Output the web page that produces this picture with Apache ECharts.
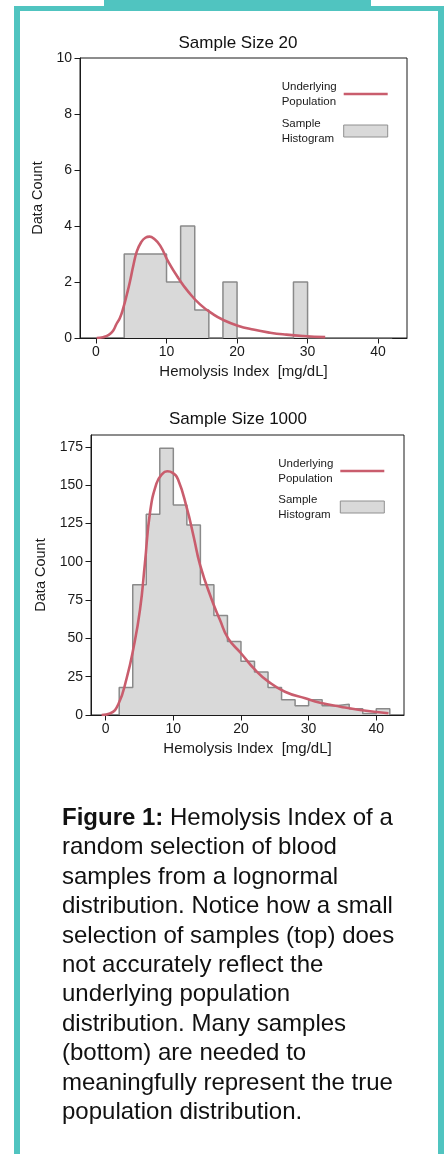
<!DOCTYPE html>
<html>
<head>
<meta charset="utf-8">
<script src="https://cdn.jsdelivr.net/npm/echarts@6/dist/echarts.min.js"></script>
<style>
  html, body { margin: 0; padding: 0; background: #fff; }
  #chart { position: absolute; left: 0; top: 0; width: 446px; height: 1154px; }
  .tab { position: absolute; left: 104px; top: 0; width: 267px; height: 6px; background: #50c4c0; }
  .frame { position: absolute; left: 14px; top: 6px; width: 430px; height: 1200px; box-sizing: border-box;
           border: 6px solid #50c4c0; border-top-width: 5px; border-bottom: none; pointer-events: none; }
  .caption { position: absolute; left: 62px; top: 802px; font-family: 'Liberation Sans', Arial, Helvetica, sans-serif;
             font-size: 24px; line-height: 29.4px; color: #111; white-space: nowrap; }
</style>
</head>
<body>
<div id="chart"></div>
<div class="tab"></div>
<div class="frame"></div>
<div class="caption"><b>Figure 1:</b> Hemolysis Index of a<br>random selection of blood<br>samples from a lognormal<br>distribution. Notice how a small<br>selection of samples (top) does<br>not accurately reflect the<br>underlying population<br>distribution. Many samples<br>(bottom) are needed to<br>meaningfully represent the true<br>population distribution.</div>
<script>
const FONT = "'Liberation Sans', Arial, Helvetica, sans-serif";

// histogram bins (width 2)
const edges20 = [4, 6, 8, 10, 12, 14, 16, 18, 20, 22, 24, 26, 28, 30, 32, 34, 36, 38, 40, 42];
const counts20 = [3, 3, 3, 2, 4, 1, 0, 2, 0, 0, 0, 0, 2, 0, 0, 0, 0, 0, 0];
const edges1000 = [2, 4, 6, 8, 10, 12, 14, 16, 18, 20, 22, 24, 26, 28, 30, 32, 34, 36, 38, 40, 42];
const counts1000 = [18, 85, 131, 174, 137, 124, 85, 65, 48, 35, 28, 18, 10, 6, 10, 6, 7, 4, 1, 4];

// underlying population curve
const curveX20 = [0.1, 1, 1.75, 2.4, 2.9, 3.4, 3.9, 4.4, 4.8, 5.3, 5.8, 6.4, 7, 7.6, 8.2, 9.1, 10.3, 11.7, 13.1, 14.75, 16.6, 18, 20, 22.3, 24.7, 27, 29.4, 32.5];
const curveY20 = [0, 0.03, 0.1, 0.25, 0.5, 0.72, 1.1, 1.58, 2.0, 2.6, 3.1, 3.42, 3.58, 3.62, 3.55, 3.3, 2.7, 2.13, 1.65, 1.2, 0.85, 0.65, 0.45, 0.3, 0.19, 0.12, 0.07, 0.03];
const curveX1000 = [-0.6, 0.64, 1.87, 3.1, 4.08, 5.07, 5.8, 6.55, 7.5, 8.3, 9.1, 9.9, 10.7, 12, 13, 13.95, 15.7, 16.9, 18.1, 20, 22.1, 24.05, 26.5, 29.5, 31.7, 34.7, 37.6, 41.8];
const curveY1000 = [0, 1, 7, 24, 43, 68.6, 99, 132, 151, 157, 159, 158, 153.6, 135, 116.5, 98, 75, 62, 50, 40.3, 29.4, 21.8, 15.2, 10.9, 8, 5.4, 3.3, 1.1];

// tick labels
const xTicks = [0, 10, 20, 30, 40];
const yTicks20 = [0, 2, 4, 6, 8, 10];
const yTicks1000 = [0, 25, 50, 75, 100, 125, 150, 175];

function stepPoints(edges, counts) {
  const pts = [[edges[0], 0]];
  counts.forEach((c, i) => pts.push([edges[i], c]));
  pts.push([edges[edges.length - 1], 0]);
  return pts;
}
function zip(xs, ys) { return xs.map((x, i) => [x, ys[i]]); }

const axisColor = '#1a1a1a';
const labelStyle = { color: '#1a1a1a', fontSize: 14, fontFamily: FONT };

function xAxisCfg(gridIndex, min, max) {
  return {
    type: 'value', gridIndex, min, max,
    name: 'Hemolysis Index  [mg/dL]', nameLocation: 'middle', nameGap: 26,
    nameTextStyle: { color: '#1a1a1a', fontSize: 15, fontFamily: FONT },
    axisLine: { show: true, onZero: false, lineStyle: { color: axisColor, width: 1 } },
    axisTick: { show: true, length: 5.5, customValues: xTicks, lineStyle: { color: axisColor } },
    axisLabel: Object.assign({ customValues: xTicks, margin: 7 }, labelStyle),
    splitLine: { show: false }
  };
}
function yAxisCfg(gridIndex, min, max, ticks, gap) {
  return {
    type: 'value', gridIndex, min, max,
    name: 'Data Count', nameLocation: 'middle', nameRotate: 90, nameGap: gap,
    nameTextStyle: { color: '#1a1a1a', fontSize: 14.5, fontFamily: FONT },
    axisLine: { show: true, onZero: false, lineStyle: { color: axisColor, width: 1 } },
    axisTick: { show: true, length: 5.5, customValues: ticks, lineStyle: { color: axisColor } },
    axisLabel: Object.assign({ customValues: ticks, margin: 8 }, labelStyle),
    splitLine: { show: false }
  };
}
function legendCfg(left, top, gap) {
  return {
    orient: 'vertical', left, top, padding: 0, itemGap: gap,
    itemWidth: 44, itemHeight: 12, align: 'right', selectedMode: false,
    formatter: n => n.split(' ').map(w => '{a|' + w + '}').join('\n'),
    textStyle: {
      fontSize: 11.5, fontFamily: FONT, color: '#1a1a1a', lineHeight: 15,
      rich: { a: { width: 57, align: 'left', fontSize: 11.5, fontFamily: FONT, lineHeight: 15, color: '#1a1a1a' } }
    },
    data: [
      { name: 'Underlying Population', itemStyle: { color: 'rgba(0,0,0,0)', opacity: 0, borderWidth: 0 },
        lineStyle: { color: '#c95d6d', width: 2.6, opacity: 1 } },
      { name: 'Sample Histogram', icon: 'rect', itemStyle: { color: '#d9d9d9', borderColor: '#909090', borderWidth: 1 } }
    ]
  };
}
function histSeries(idx, edges, counts) {
  return {
    name: 'Sample Histogram', type: 'line', xAxisIndex: idx, yAxisIndex: idx,
    step: 'end', symbol: 'none', data: stepPoints(edges, counts),
    lineStyle: { color: '#8a8a8a', width: 1.5 },
    itemStyle: { color: '#d9d9d9' },
    areaStyle: { color: '#d9d9d9', opacity: 1 },
    silent: true, z: 2
  };
}
function curveSeries(idx, xs, ys) {
  return {
    name: 'Underlying Population', type: 'line', xAxisIndex: idx, yAxisIndex: idx,
    smooth: 0.5, symbol: 'none', data: zip(xs, ys),
    lineStyle: { color: '#c95d6d', width: 2.6 },
    itemStyle: { color: '#c95d6d' },
    silent: true, z: 3
  };
}

const option = {
  animation: false,
  grid: [
    { left: 80, top: 58, width: 327, height: 280, show: true, borderColor: axisColor, borderWidth: 1, backgroundColor: 'transparent', outerBoundsMode: 'none' },
    { left: 91, top: 435, width: 313, height: 280, show: true, borderColor: axisColor, borderWidth: 1, backgroundColor: 'transparent', outerBoundsMode: 'none' }
  ],
  xAxis: [xAxisCfg(0, -2.27, 44.1), xAxisCfg(1, -2.17, 44.1)],
  yAxis: [yAxisCfg(0, 0, 10, yTicks20, 31), yAxisCfg(1, 0, 182.7, yTicks1000, 39)],
  legend: [legendCfg(281.7, 79, 7), legendCfg(278.3, 456, 6)],
  graphic: [
    { type: 'text', x: 238, y: 43, style: { text: 'Sample Size 20', font: '17px ' + FONT, fill: '#111', textAlign: 'center', textVerticalAlign: 'middle', align: 'center', verticalAlign: 'middle' } },
    { type: 'text', x: 238, y: 419, style: { text: 'Sample Size 1000', font: '17px ' + FONT, fill: '#111', textAlign: 'center', textVerticalAlign: 'middle', align: 'center', verticalAlign: 'middle' } }
  ],
  series: [
    histSeries(0, edges20, counts20),
    curveSeries(0, curveX20, curveY20),
    histSeries(1, edges1000, counts1000),
    curveSeries(1, curveX1000, curveY1000)
  ]
};

const myChart = echarts.init(document.getElementById('chart'), null, { renderer: 'canvas' });
myChart.setOption(option);
</script>
</body>
</html>
